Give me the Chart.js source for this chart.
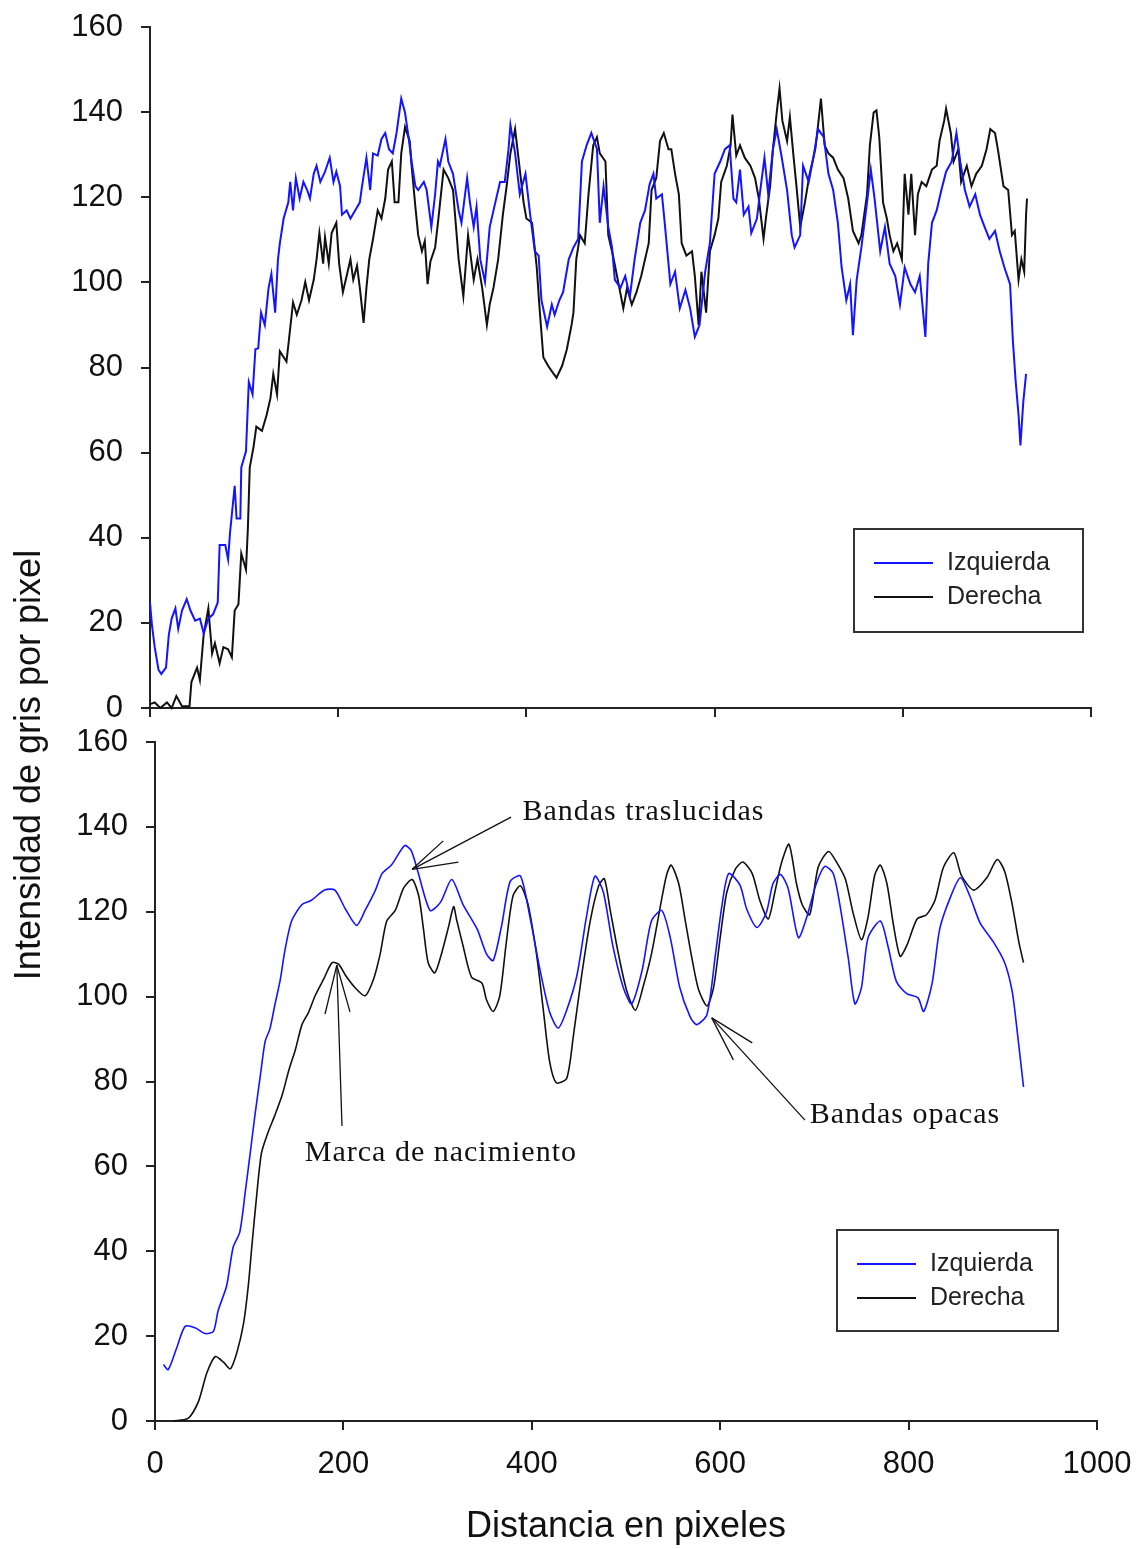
<!DOCTYPE html>
<html>
<head>
<meta charset="utf-8">
<script src="https://cdn.jsdelivr.net/npm/chart.js@4.4.1/dist/chart.umd.min.js"></script>
<style>
  body { margin: 0; background: #fff; }
  #wrap { position: relative; width: 1138px; height: 1549px; }
  canvas { position: absolute; left: 0; top: 0; }
</style>
</head>
<body>
<div id="wrap">
  <canvas id="chartBottom" width="1138" height="1549"></canvas>
  <canvas id="chartTop" width="1138" height="740"></canvas>
</div>
<script>
const seriesNames = ['Izquierda', 'Derecha'];
const xTickValues = [0, 200, 400, 600, 800, 1000];
const yTickValues = [0, 20, 40, 60, 80, 100, 120, 140, 160];

// perfil sin suavizar: [distancia, intensidad]
const topIzquierda = [
  [0,24.8],[2,19.6],[5,14.3],[9,9],[12,8],[17,9.5],[20,17.2],[23,21],[27,23.4],[30,18.6],
  [34,22.9],[39,25.6],[43,22.9],[48,20.5],[53,21],[57,17.6],[62,21],[67,22],[72,24.8],[74,38.3],
  [80,38.3],[83,34.9],[85,41.1],[90,52.2],[92,44.5],[96,44.5],[97,56.5],[102,60.3],[105,76.6],[109,73.7],
  [112,84.3],[115,84.5],[118,92.9],[122,90],[126,98.7],[129,102],[133,92.9],[136,105.4],[138,109.2],[142,115],
  [147,118.8],[149,123.6],[152,116.9],[155,124.5],[159,119.7],[163,123.6],[167,121.7],[170,119.7],[174,125.5],[177,127.4],
  [181,123.6],[186,126],[191,129.3],[195,123.6],[198,126],[202,122.6],[204,115.9],[209,116.9],[213,115],[218,116.9],
  [223,118.8],[225,122.1],[230,129.3],[234,121.7],[237,130.3],[242,129.8],[246,133.7],[250,135.1],[254,131.3],[258,130.3],
  [262,135.1],[267,143.2],[271,139.9],[275,133.7],[278,128.4],[282,122.6],[285,121.7],[291,123.6],[294,121.7],[299,113],
  [303,120.7],[306,128.4],
  [308,127.4],[314,133.7],[317,128.4],[322,125.5],[328,116.9],[331,114],[337,124.5],[340,118.8],[344,113],[347,117.8],
  [351,105.4],[356,100.1],[361,113],[367,118.8],[372,123.6],[377,123.6],[381,131.3],[383,137],[388,130.3],[393,120.7],
  [399,125.5],[404,115.9],[409,107.3],[413,106.3],[416,95.8],[422,89.6],[427,94.8],[430,92.4],[435,95.8],[439,97.7],
  [445,105.4],[450,108.2],[455,110.2],[459,128.4],[464,132.2],[469,135.1],[475,131.3],[478,114],[482,122.6],[487,113],
  [491,108.2],[494,100.6],[500,98.7],[505,101.5],[510,96.7],[515,105.4],[521,114],[526,116.9],[531,123.1],[535,125.5],
  [538,119.7],[544,120.7],[547,114],[553,99.6],[558,102.5],[563,93.9],[569,98.2],[574,93.9],[579,87.2],[584,90],
  [590,102.5],[595,109.2],[600,125.5],[606,128.4],[611,131.3],[616,132.2],[620,119.7],[623,118.8],
  [627,126.5],[631,115.9],[636,117.8],[639,111.6],[645,115],[648,120.7],[653,129.3],[657,120.7],[662,131.3],[666,136],
  [671,129.8],[677,121.7],[682,111.1],[685,108.2],[691,111.1],[694,127.4],[700,123.6],[705,129.3],[710,136],[716,134.1],
  [721,125.5],[726,121.7],[731,114],[735,103.5],[740,95.8],[744,99.6],[747,87.6],[751,100.6],[756,108.2],[762,118.8],
  [766,126.5],[770,119.7],[776,107.3],[781,113],[786,104.4],[792,101.5],[797,94.8],[802,103.5],[808,99.6],[813,97.7],
  [818,101.5],[824,87.2],[827,104.4],[831,114],[836,116.9],[841,121.7],[846,126],[852,128.4],[857,135.1],[861,128.4],
  [866,121.7],[871,117.8],[877,120.7],[882,115.9],[887,113],[892,110.2],[898,112.1],[903,107.3],[908,103.5],[914,99.6],
  [917,86.2],[920,76.6],[923,68.9],[925,61.7],[928,71.8],[931,78.5]
];

const topDerecha = [
  [0,0.9],[5,1.3],[11,0],[18,1.3],[23,0],[28,2.8],[34,0.4],[42,0.4],[44,6.1],[50,9.5],
  [53,6.6],[57,17.2],[62,23.4],[66,12.8],[69,15.2],[74,10.5],[78,14.3],[83,13.8],[87,11.9],[90,22.9],
  [94,24.4],[97,36.3],[102,32.5],[104,42.1],[106,56.5],[110,61.3],[113,66.1],[119,65.1],[124,68.9],[128,72.8],
  [131,78.5],[135,73.7],[138,83.8],[145,81.4],[147,85.2],[152,95.3],[156,92.4],[161,95.8],[165,100.1],[169,95.8],
  [174,100.6],[177,105.4],[180,111.6],[184,104.4],[186,110.6],[190,104.4],[193,111.6],[198,114],[201,104.4],[205,97.7],
  [210,102.5],[213,105.4],[216,100.6],[220,103.9],[223,98.7],[227,90.5],[230,98.7],[233,105.4],[237,110.2],[242,116.9],
  [246,115],[250,119.7],[253,126.5],[257,128.4],[260,118.8],[264,118.8],[267,130.3],[271,136.5],[276,133.2],[278,127.4],
  [282,117.8],[285,111.1],[289,107.3],[292,109.7],[295,99.6],[298,104.9],[303,108.2],[306,114],
  [312,126.5],[317,124.5],[322,121.7],[328,105.4],[333,96.7],[338,111.1],[344,100.6],[348,105.4],[353,98.7],[358,90],
  [361,94.8],[365,98.7],[370,105.4],[375,115.9],[379,122.6],[383,130.3],[388,136],[393,126.5],[397,118.8],[400,115],
  [406,114],[411,103.5],[414,93.9],[418,82.4],[423,80.4],[429,78.5],[432,77.6],[438,80.4],[443,84.3],[448,90],
  [450,92.9],[453,105.4],[457,111.1],[462,109.2],[466,120.7],[471,132.2],[475,134.1],[478,130.3],[484,128.4],[487,111.1],
  [492,106.3],[498,99.6],[503,93.9],[507,98.7],[512,94.8],[517,97.7],[522,101.5],[530,109.2],[533,121.7],[538,124.5],
  [542,133.2],[546,135.1],[551,131.3],[554,131.3],[558,125.5],[562,120.7],[565,109.2],[570,106.3],[576,107.3],[579,101.5],
  [583,90],[586,102.5],[591,92.9],[595,107.3],[600,111.1],[604,115],[607,123.6],[613,127.4],[617,132.2],[619,139.4],
  [623,129.8],
  [627,132.2],[632,129.3],[638,127.4],[643,124.5],[647,119.7],[652,110.2],[655,115.9],[659,122.6],[662,131.3],[666,139.9],
  [669,145.6],[672,138],[677,133.2],[680,138.9],[684,129.3],[687,122.6],[691,113],[696,118.8],[701,125.5],[707,131.3],
  [710,137],[713,143.2],[717,132.2],[721,130.3],[726,129.3],[731,126.5],[737,124.5],[742,119.7],[747,112.1],[753,109.2],
  [756,111.1],[762,120.7],[765,132.2],[769,139.9],[772,140.4],[775,134.1],[779,118.8],[783,115],[786,111.1],[790,107.3],
  [794,109.2],[799,105.4],[802,125.5],[806,115.9],[809,125.5],[813,111.1],[816,120.7],[820,123.6],[825,122.6],[831,126.5],
  [836,127.4],[839,133.2],[844,138],[846,140.8],[851,135.1],[854,128.4],[859,131.3],[862,123.6],[868,127.4],[873,122.6],
  [878,125.5],[884,127.4],[889,131.3],[893,136],[898,135.1],[901,131.3],[907,122.6],[912,121.7],[916,111.1],[919,112.1],
  [923,100.6],[926,105.4],[929,102.5],[931,115.9],[932,119.7]
];

// perfil suavizado
const botIzquierda = [
  [9,13.3],[14,12.1],[23,17.2],[32,22.3],[43,21.9],[53,20.6],[62,21.1],[67,26],[76,31.8],[83,41],
  [90,44.5],[96,54.3],[101,63],[106,71.9],[112,81.7],[117,89.5],[122,92.4],[127,97.8],[133,104],[138,111],
  [145,117.8],[156,121.7],[166,122.7],[180,125.1],[191,125.1],[202,120.7],[214,116.8],[223,120.3],[234,125.1],[241,129],
  [251,131],[265,135.6],[272,134.4],[279,129.5],[292,120.3],[303,122.2],[315,127.6],[327,121.7],[342,115.9],[352,110],
  [359,108.5],[368,116.8],[377,127.1],[388,128.4],[398,118.8],[409,106],[419,96.3],[428,92.6],[437,96.8],[448,105.1],
  [458,118.8],[467,128.4],[476,124.6],[486,112],[497,102.2],[506,98.3],[517,106.1],[527,117.8],[538,120.3],[547,113.9],
  [557,102.2],[568,95.3],[575,93.4],[586,95.8],[595,110],[602,121.7],[609,129],[621,126.3],[628,120.7],[639,116.3],
  [649,119.8],[656,126.6],[664,128.8],[672,125.6],[683,113.9],[692,118.8],[702,126.6],[711,130.7],[720,129],[727,121.7],
  [736,109],[743,98.3],[750,102.2],[757,113.9],[770,117.8],[778,112],[787,103.6],[798,100.7],[810,99.7],[816,96.5],
  [825,103.2],[833,115.9],[844,123.2],[855,128],[865,123.7],[876,117.3],[890,112.9],[902,108],[910,101.2],[915,92.4],
  [922,78.7]
];

const botDerecha = [
  [19,0],[35,0.6],[46,4.5],[55,11.3],[64,15.2],[73,13.8],[80,12.3],[87,16.2],[94,23],[99,31.8],
  [103,41.6],[108,53.3],[113,63.1],[120,68],[127,71.9],[135,76.8],[142,82.6],[149,87.5],[156,93.4],[163,96.3],
  [170,100.2],[179,104.1],[188,108],[195,107.6],[202,105.1],[212,102.2],[223,100.2],[232,104.1],[239,110],[246,117.8],
  [255,120.3],[264,125.6],[273,127.6],[280,123.7],[285,115.9],[290,108],[297,105.6],[304,110],[312,116.8],[317,121.2],
  [320,118.3],[327,112],[336,104.6],[347,103.2],[352,99.2],[359,96.5],[366,100.2],[373,112.9],[380,123.7],[388,126.1],
  [396,121.7],[405,110],[412,97.3],[419,84.6],[426,79.7],[437,80.7],[444,90.5],[453,105.1],[462,117.8],[471,126.1],
  [477,127.8],[483,120.7],[492,110],[501,101.2],[510,96.8],[518,102.2],[527,110],[536,120.7],[543,128.6],[548,131],
  [556,126.6],[563,117.8],[570,109],[577,101.7],[586,97.8],[593,102.2],[600,113.9],[607,124.6],[616,130],[624,131.7],
  [634,129],[642,122.7],[651,118.3],[658,124.6],[665,131.5],[673,135.9],[681,126.6],[687,121.7],[695,119.3],[704,130.5],
  [715,134.2],[724,131.5],[733,127.6],[741,119.8],[750,113.4],[757,118.8],[764,128.6],[770,131],[777,126.6],[784,116.8],
  [791,109.5],[798,112],[809,118.3],[819,119.3],[828,122.7],[837,130.5],[848,133.9],[856,128.6],[869,125.1],[883,128],
  [894,132.3],[902,129.5],[910,121.7],[917,112.9],[922,108]
];

// notas con flecha sobre el perfil suavizado (coordenadas de datos)
const notes = [
  { text: 'Bandas traslucidas', at: [390, 143.5], tip: [273, 130], tail: [378, 142.3], barbs: [[306, 136.7], [322, 131.7]] },
  { text: 'Marca de nacimiento', at: [159, 63.1], tip: [193, 107.4], tail: [198.5, 69.5], barbs: [[180.5, 95.9], [207, 96.4]] },
  { text: 'Bandas opacas', at: [695, 72.1], tip: [591, 95], tail: [690, 70.9], barbs: [[634, 89.1], [614, 85.1]] }
];

const BLUE = 'rgb(20,20,255)';
const BLACK = '#111';
const AXIS = '#222';

Chart.defaults.font.family = '"Liberation Sans", Arial, sans-serif';
Chart.defaults.color = '#111';

function toPoints(rows) {
  return rows.map(r => ({ x: r[0], y: r[1] }));
}

const boxLegend = {
  id: 'boxLegend',
  afterDraw(chart, args, opts) {
    const ctx = chart.ctx;
    const b = opts.box;
    ctx.save();
    ctx.strokeStyle = '#333';
    ctx.lineWidth = 2;
    ctx.strokeRect(b.x, b.y, b.w, b.h);
    ctx.font = '25px "Liberation Sans", Arial, sans-serif';
    ctx.textBaseline = 'middle';
    chart.data.datasets.forEach((ds, i) => {
      const y = b.y + 34 + i * 34;
      ctx.strokeStyle = ds.borderColor;
      ctx.lineWidth = 2;
      ctx.beginPath();
      ctx.moveTo(b.x + 20, y);
      ctx.lineTo(b.x + 79, y);
      ctx.stroke();
      ctx.fillStyle = '#222';
      ctx.fillText(ds.label, b.x + 93, y);
    });
    ctx.restore();
  }
};

const arrowNotes = {
  id: 'arrowNotes',
  afterDatasetsDraw(chart) {
    const ctx = chart.ctx;
    const sx = chart.scales.x, sy = chart.scales.y;
    const px = p => [sx.getPixelForValue(p[0]), sy.getPixelForValue(p[1])];
    ctx.save();
    ctx.strokeStyle = '#111';
    ctx.fillStyle = '#111';
    ctx.lineWidth = 1.3;
    ctx.font = '30px "Liberation Serif", "Times New Roman", serif';
    ctx.letterSpacing = '1px';
    ctx.textBaseline = 'middle';
    notes.forEach(n => {
      const tip = px(n.tip);
      [n.tail].concat(n.barbs).forEach(p => {
        const q = px(p);
        ctx.beginPath();
        ctx.moveTo(tip[0], tip[1]);
        ctx.lineTo(q[0], q[1]);
        ctx.stroke();
      });
      const t = px(n.at);
      ctx.fillText(n.text, t[0], t[1]);
    });
    ctx.restore();
  }
};

// título vertical común a los dos paneles
const sideTitle = {
  id: 'sideTitle',
  afterDraw(chart) {
    const ctx = chart.ctx;
    ctx.save();
    ctx.translate(30, 765);
    ctx.rotate(-Math.PI / 2);
    ctx.font = '36px "Liberation Sans", Arial, sans-serif';
    ctx.fillStyle = '#111';
    ctx.textAlign = 'center';
    ctx.textBaseline = 'middle';
    ctx.fillText('Intensidad de gris por pixel', 0, 0);
    ctx.restore();
  }
};

function makeScales(yWidth, xHeight, showXLabels) {
  return {
    x: {
      type: 'linear',
      min: 0,
      max: 1000,
      afterBuildTicks: s => { s.ticks = xTickValues.map(v => ({ value: v })); },
      afterFit: s => { s.height = xHeight; s.paddingLeft = 0; s.paddingRight = 0; },
      grid: { drawOnChartArea: false, drawTicks: true, tickLength: 9, color: AXIS, lineWidth: 2 },
      border: { display: true, color: AXIS, width: 2 },
      ticks: { display: showXLabels, padding: 16, font: { size: 31 }, color: '#111', callback: v => String(v) },
      title: {
        display: showXLabels,
        text: 'Distancia en pixeles',
        font: { size: 36 },
        color: '#111',
        padding: 0
      }
    },
    y: {
      min: 0,
      max: 160,
      afterBuildTicks: s => { s.ticks = yTickValues.map(v => ({ value: v })); },
      afterFit: s => { s.width = yWidth; s.paddingTop = 0; s.paddingBottom = 0; },
      grid: { drawOnChartArea: false, drawTicks: true, tickLength: 9, color: AXIS, lineWidth: 2 },
      border: { display: true, color: AXIS, width: 2 },
      ticks: { padding: 18, font: { size: 31 }, color: '#111', callback: v => String(v) }
    }
  };
}

new Chart(document.getElementById('chartTop'), {
  type: 'line',
  data: {
    datasets: [
      { label: seriesNames[0], data: toPoints(topIzquierda), borderColor: BLUE, borderWidth: 2, tension: 0, pointRadius: 0, clip: 4 },
      { label: seriesNames[1], data: toPoints(topDerecha), borderColor: BLACK, borderWidth: 2, tension: 0, pointRadius: 0, clip: 4 }
    ]
  },
  options: {
    responsive: false,
    animation: false,
    devicePixelRatio: 1,
    layout: { padding: { top: 27, left: 0, right: 47, bottom: 0 } },
    scales: makeScales(150, 32, false),
    plugins: {
      legend: { display: false },
      tooltip: { enabled: false },
      boxLegend: { box: { x: 854, y: 529, w: 229, h: 103 } }
    }
  },
  plugins: [boxLegend]
});

new Chart(document.getElementById('chartBottom'), {
  type: 'line',
  data: {
    datasets: [
      { label: seriesNames[0], data: toPoints(botIzquierda), borderColor: BLUE, borderWidth: 1.6, tension: 0.25, pointRadius: 0, clip: 4 },
      { label: seriesNames[1], data: toPoints(botDerecha), borderColor: BLACK, borderWidth: 1.6, tension: 0.25, pointRadius: 0, clip: 4 }
    ]
  },
  options: {
    responsive: false,
    animation: false,
    devicePixelRatio: 1,
    layout: { padding: { top: 742, left: 0, right: 41, bottom: 0 } },
    scales: makeScales(155, 128, true),
    plugins: {
      legend: { display: false },
      tooltip: { enabled: false },
      boxLegend: { box: { x: 837, y: 1230, w: 221, h: 101 } }
    }
  },
  plugins: [boxLegend, arrowNotes, sideTitle]
});
</script>
</body>
</html>
